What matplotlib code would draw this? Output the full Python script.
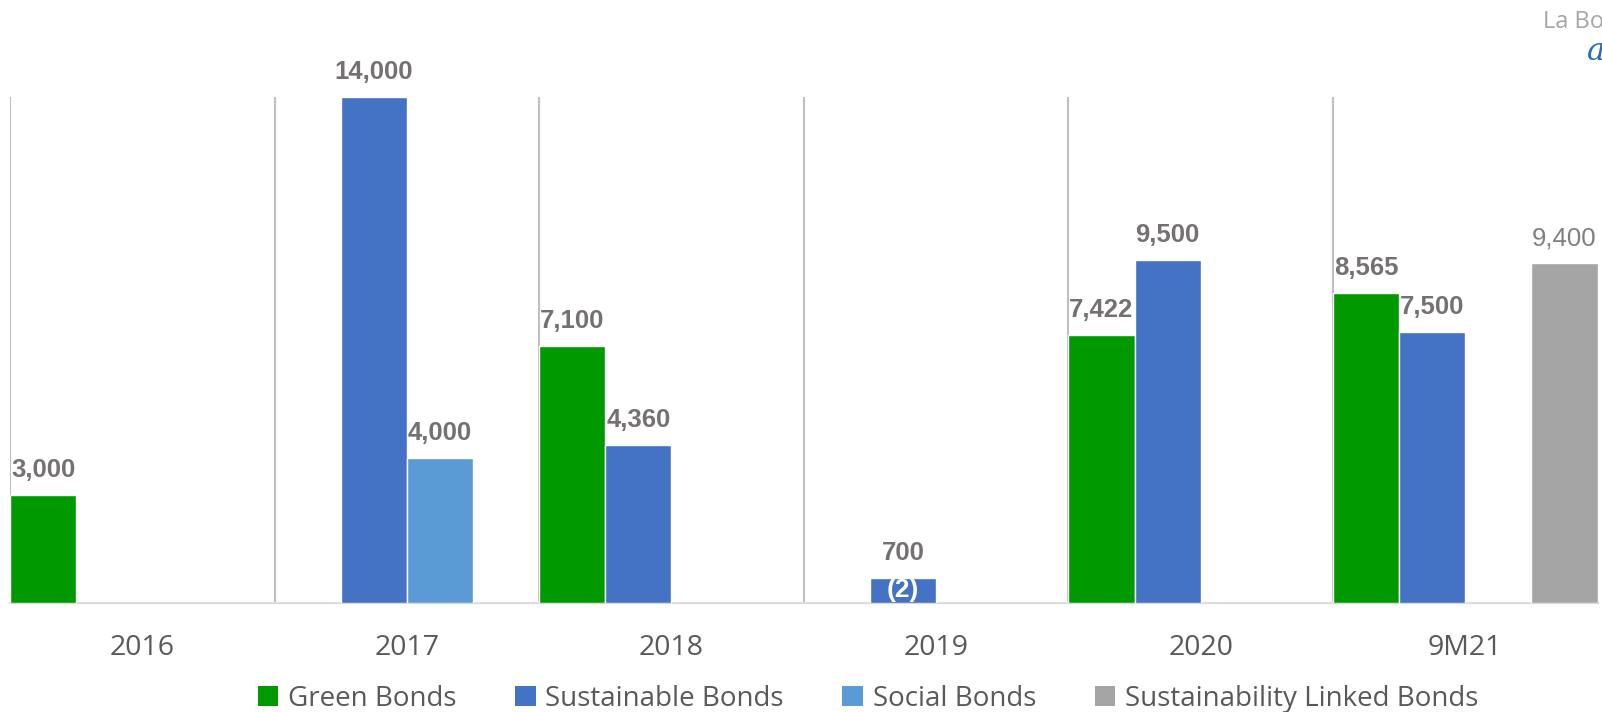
import matplotlib
matplotlib.use("Agg")
import matplotlib.pyplot as plt
from matplotlib.patches import Patch
import numpy as np

categories = ["2016", "2017", "2018", "2019", "2020", "9M21"]
series_names = ["Green Bonds", "Sustainable Bonds", "Social Bonds", "Sustainability Linked Bonds"]
green = [3000, 0, 7100, 0, 7422, 8565]
sustainable = [0, 14000, 4360, 700, 9500, 7500]
social = [0, 4000, 0, 0, 0, 0]
slb = [0, 0, 0, 0, 0, 9400]
colors = ["#009900", "#4472C4", "#5B9BD5", "#A5A5A5"]
inner_note = {(1, 3): "(2)"}  # (series index, category index) -> text

W, H = 1602, 712
fig = plt.figure(figsize=(W / 100, H / 100), dpi=100)
ax = fig.add_axes([10 / W, (H - 603) / H, 1587.6 / W, (603 - 97) / H])

x = np.arange(len(categories))
bw = 0.25
all_series = [green, sustainable, social, slb]
for si, (vals, col) in enumerate(zip(all_series, colors)):
    offs = (si - 1.5) * bw
    vals = np.array(vals, dtype=float)
    bars = ax.bar(x + offs, vals, width=bw, color=col, edgecolor="white", linewidth=1.0, zorder=3)
    for ci, (b, v) in enumerate(zip(bars, vals)):
        if v <= 0:
            continue
        if si == 3:
            ax.annotate(f"{int(v):,}", (b.get_x() + b.get_width() / 2, v), xytext=(0, 13),
                        textcoords="offset points", ha="center", va="baseline",
                        fontsize=18.5, color="#7F7F7F", family="Liberation Sans",
                        annotation_clip=False)
        else:
            ax.annotate(f"{int(v):,}", (b.get_x() + b.get_width() / 2, v), xytext=(0, 13),
                        textcoords="offset points", ha="center", va="baseline",
                        fontsize=18.5, color="#767171", fontweight="bold",
                        family="Liberation Sans", annotation_clip=False)
        if (si, ci) in inner_note:
            ax.text(b.get_x() + b.get_width() / 2, v / 2, inner_note[(si, ci)], ha="center",
                    va="center", fontsize=19, color="white", fontweight="bold",
                    family="Liberation Sans", zorder=4)

ax.set_xlim(-0.5, len(categories) - 0.5)
ax.set_ylim(0, 14000)
for i in range(len(categories)):
    ax.axvline(i - 0.5, color="#BFBFBF", linewidth=1.5, zorder=1)

for s in ["top", "right", "left"]:
    ax.spines[s].set_visible(False)
ax.spines["bottom"].set_color("#D9D9D9")
ax.spines["bottom"].set_linewidth(1.5)
ax.set_yticks([])
ax.set_xticks(x)
ax.set_xticklabels(categories, fontsize=20.5, color="#595959", family="Open Sans")
ax.tick_params(axis="x", length=0, pad=22)

handles = [Patch(facecolor=c, edgecolor="none") for c in colors]
fig.legend(handles, series_names, loc="center", bbox_to_anchor=(868 / W, (H - 699) / H), ncol=4,
           frameon=False, prop={"family": "Open Sans", "size": 20}, labelcolor="#595959",
           handlelength=0.75, handleheight=0.75, handletextpad=0.35, columnspacing=2.1,
           borderpad=0, borderaxespad=0)

fig.text(1543 / W, (H - 28) / H, "La Bo", fontsize=17, color="#A6A6A6", family="Open Sans",
         ha="left", va="baseline")
fig.text(1587 / W, (H - 60) / H, "a", fontsize=22, color="#1F6FB5", style="italic",
         family="DejaVu Serif", ha="left", va="baseline")

fig.savefig("out.png", dpi=100, facecolor="white")
